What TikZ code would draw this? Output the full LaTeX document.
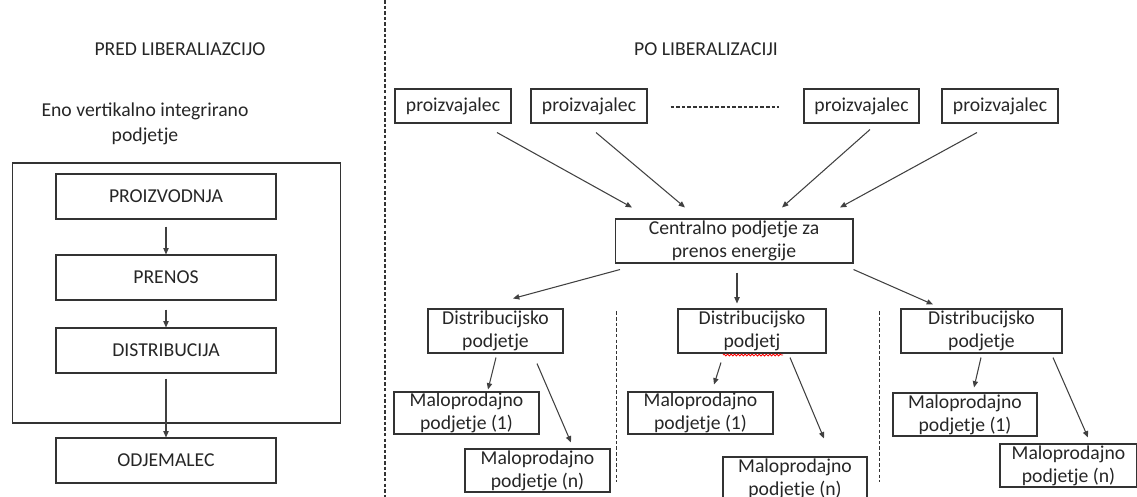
\documentclass[tikz,border=0pt]{standalone}
\usepackage{fontspec}
\setmainfont{Carlito}
\usepackage{tikz}
\usetikzlibrary{arrows.meta, calc, decorations.pathmorphing}

\begin{document}
\begin{tikzpicture}[
  x=0.02cm, y=-0.02cm,
  box/.style={rectangle, draw=black!80, line width=0.6pt, align=center, inner sep=0pt, text=black!85, font=\fontsize{11.2}{13.2}\selectfont},
  heading/.style={text=black!85, align=center, inner sep=0pt, font=\fontsize{11.2}{14.2}\selectfont},
  arrow/.style={-{Triangle[length=3.6pt,width=3pt]}, draw=black!75, line width=0.6pt},
  divider/.style={draw=black!80, line width=0.6pt, dash pattern=on 2pt off 1.2pt},
]
  \useasboundingbox (0,0) rectangle (1137,497);

  \node[heading] (pred) at (180,49) {PRED LIBERALIAZCIJO};
  \node[heading] (eno) at (145,124) {Eno vertikalno integrirano\\podjetje};
  \node[box, minimum width=6.58cm, minimum height=5.2cm] (vertical) at (176.5,293) {};
  \node[box, minimum width=4.4cm, minimum height=0.9cm] (proizv) at (166,196.5) {PROIZVODNJA};
  \node[box, minimum width=4.4cm, minimum height=0.9cm] (prenos) at (166,277.5) {PRENOS};
  \node[box, minimum width=4.4cm, minimum height=0.9cm] (distr) at (166,350.5) {DISTRIBUCIJA};
  \node[box, minimum width=4.4cm, minimum height=0.9cm] (odj) at (166,460.5) {ODJEMALEC};

  \draw[arrow] ($(proizv.south)+(0,7)$) -- (prenos.north);
  \draw[arrow] ($(prenos.south)+(0,9)$) -- (distr.north);
  \draw[arrow] ($(distr.south)+(0,5)$) -- (odj.north);

  \coordinate (divtop) at (385,0);
  \coordinate (divbot) at (385,497);
  \draw[divider] (divtop) -- (divbot);

  \node[heading] (po) at (706,49) {PO LIBERALIZACIJI};
  \node[box, minimum width=2.32cm, minimum height=0.68cm] (p1) at (453,106) {proizvajalec};
  \node[box, minimum width=2.32cm, minimum height=0.68cm] (p2) at (589,106) {proizvajalec};
  \node[box, minimum width=2.3cm, minimum height=0.68cm] (p3) at (861.5,106) {proizvajalec};
  \node[box, minimum width=2.32cm, minimum height=0.68cm] (p4) at (1000,106) {proizvajalec};
  \draw[divider] ($(p2.east)+(23,1)$) -- ($(p3.west)+(-24,1)$);

  \node[box, minimum width=4.76cm, minimum height=0.88cm] (central) at (734,241) {Centralno podjetje za\\prenos energije};

  \draw[arrow] ($(p1.south)+(44,9)$) -- ($(central.north)+(-102,-11)$);
  \draw[arrow] ($(p2.south)+(7,9)$) -- ($(central.north)+(-49,-11)$);
  \draw[arrow] ($(p3.south)+(8.5,6)$) -- ($(central.north)+(48,-11)$);
  \draw[arrow] ($(p4.south)+(-23,9)$) -- ($(central.north)+(106,-11)$);

  \node[box, minimum width=2.7cm, minimum height=0.88cm] (d1) at (495.5,331) {Distribucijsko\\podjetje};
  \node[box, minimum width=2.96cm, minimum height=0.88cm] (d2) at (752,331) {Distribucijsko\\podjetj};
  \node[box, minimum width=3.22cm, minimum height=0.88cm] (d3) at (981.5,331) {Distribucijsko\\podjetje};
  \draw[red, line width=0.5pt, decorate, decoration={snake, amplitude=0.5pt, segment length=2pt}] ($(d2.south)+(-29,1.5)$) -- ($(d2.south)+(31,1.5)$);

  \draw[arrow] ($(central.south)+(-114,6)$) -- ($(d1.north)+(17.5,-10)$);
  \draw[arrow] ($(central.south)+(3,9)$) -- ($(d2.north)+(-15,-5)$);
  \draw[arrow] ($(central.south east)+(0,6)$) -- ($(d3.north)+(-48.5,-4)$);

  \node[box, minimum width=2.9cm, minimum height=0.84cm] (m11) at (466.5,413) {Maloprodajno\\podjetje (1)};
  \node[box, minimum width=2.9cm, minimum height=0.86cm] (m1n) at (537.5,470.5) {Maloprodajno\\podjetje (n)};
  \node[box, minimum width=2.9cm, minimum height=0.84cm] (m21) at (700.5,413) {Maloprodajno\\podjetje (1)};
  \node[box, minimum width=2.88cm, minimum height=0.86cm] (m2n) at (795,478.5) {Maloprodajno\\podjetje (n)};
  \node[box, minimum width=2.88cm, minimum height=0.86cm] (m31) at (965,414.5) {Maloprodajno\\podjetje (1)};
  \node[box, minimum width=2.74cm, minimum height=0.86cm] (m3n) at (1068.5,465.5) {Maloprodajno\\podjetje (n)};

  \draw[arrow] ($(d1.south)+(0.5,4)$) -- ($(m11.north)+(21.5,-2)$);
  \draw[arrow] ($(d1.south)+(41.5,10)$) -- ($(m1n.north)+(33.5,-6)$);
  \draw[arrow] ($(d2.south)+(-31,9)$) -- ($(m21.north)+(13.5,-7)$);
  \draw[arrow] ($(d2.south)+(38,4)$) -- ($(m2n.north)+(29,-18)$);
  \draw[arrow] ($(d3.south)+(-0.5,4)$) -- ($(m31.north)+(9,-5)$);
  \draw[arrow] ($(d3.south)+(71.5,4)$) -- ($(m3n.north)+(19.5,-6)$);

  \draw[divider] ($(d1.north east)+(53,3)$) -- ($(d1.north east)+(53,174)$);
  \draw[divider] ($(d2.north east)+(53,3)$) -- ($(d2.north east)+(53,174)$);
\end{tikzpicture}
\end{document}
